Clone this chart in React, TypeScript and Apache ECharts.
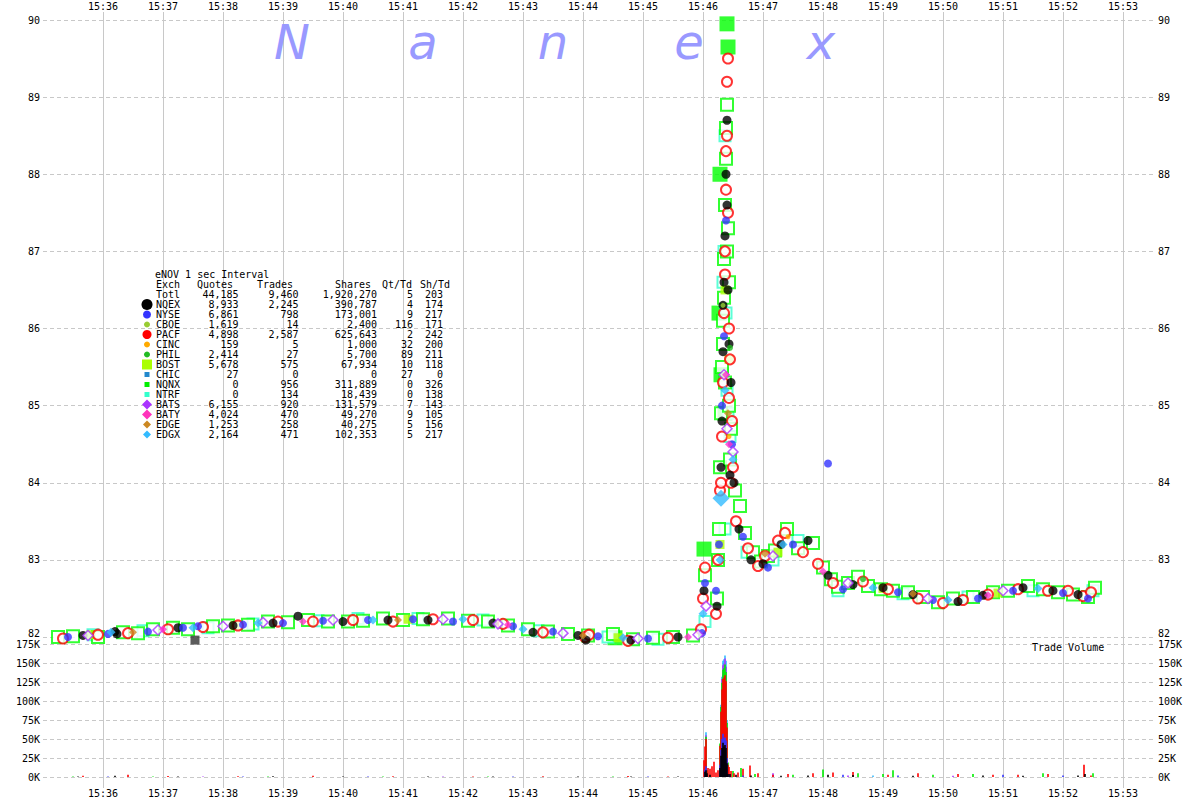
import React, { useEffect, useRef } from "react";
import * as echarts from "echarts";

// ---------------- data ----------------
const timeStart = "35:00"; // 15:35:00
const timeEnd = "53:30"; // 15:53:30
const priceTicks = [82, 83, 84, 85, 86, 87, 88, 89, 90];
const volumeTicks = [0, 25000, 50000, 75000, 100000, 125000, 150000, 175000];

const tableTitle = "eNOV 1 sec Interval";
const tableHeader = ["Exch", "Quotes", "Trades", "Shares", "Qt/Td", "Sh/Td"];
const exchanges = ["Totl", "NQEX", "NYSE", "CBOE", "PACF", "CINC", "PHIL", "BOST", "CHIC", "NQNX", "NTRF", "BATS", "BATY", "EDGE", "EDGX"];
const quotes = [44185, 8933, 6861, 1619, 4898, 159, 2414, 5678, 27, 0, 0, 6155, 4024, 1253, 2164];
const trades = [9460, 2245, 798, 14, 2587, 5, 27, 575, 0, 956, 134, 920, 470, 258, 471];
const shares = [1920270, 390787, 173001, 2400, 625643, 1000, 5700, 67934, 0, 311889, 18439, 131579, 49270, 40275, 102353];
const qtPerTd = [5, 4, 9, 116, 2, 32, 89, 10, 27, 0, 0, 7, 9, 5, 5];
const shPerTd = [203, 174, 217, 171, 242, 200, 211, 118, 0, 326, 138, 143, 105, 156, 217];

type P = [string, number];

const priceNQNX: P[] = [
  ["35:15", 82.0], ["35:30", 82.01], ["35:55", 82.0], ["36:20", 82.06], ["36:35", 82.05], ["36:50", 82.1],
  ["37:10", 82.12], ["37:25", 82.1], ["37:50", 82.14], ["38:05", 82.15], ["38:25", 82.16], ["38:45", 82.2],
  ["39:05", 82.19], ["39:25", 82.22], ["39:45", 82.2], ["40:05", 82.2], ["40:20", 82.21], ["40:40", 82.24],
  ["41:00", 82.22], ["41:20", 82.23], ["41:45", 82.24], ["42:05", 82.21], ["42:25", 82.2], ["42:45", 82.15],
  ["43:05", 82.1], ["43:25", 82.07], ["43:45", 82.04], ["44:05", 82.02], ["44:30", 82.04], ["44:50", 81.97],
  ["45:10", 81.99], ["45:30", 82.0], ["45:50", 82.02],
  ["46:02", 82.8], ["46:14", 82.5], ["46:15", 83.0], ["46:16", 83.4], ["46:17", 84.2], ["46:18", 84.9],
  ["46:19", 85.5], ["46:20", 86.1], ["46:21", 86.9], ["46:21", 86.4], ["46:22", 87.6], ["46:22", 85.3],
  ["46:23", 88.6], ["46:23", 88.2], ["46:24", 88.9], ["46:24", 87.0], ["46:25", 87.3], ["46:26", 86.6],
  ["46:20", 85.8], ["46:26", 85.0], ["46:27", 84.3], ["46:28", 84.7], ["46:32", 83.9], ["46:37", 83.7],
  ["46:42", 83.35], ["46:50", 83.1], ["46:58", 82.98], ["47:05", 83.05], ["47:12", 83.12], ["47:24", 83.4],
  ["47:35", 83.15], ["47:50", 83.22], ["48:00", 82.9], ["48:08", 82.75], ["48:15", 82.65], ["48:25", 82.7],
  ["48:35", 82.78], ["48:45", 82.66], ["48:58", 82.62], ["49:10", 82.6], ["49:25", 82.58], ["49:40", 82.52],
  ["49:55", 82.45], ["50:10", 82.5], ["50:30", 82.52], ["50:50", 82.58], ["51:05", 82.6], ["51:25", 82.66],
  ["51:40", 82.62], ["51:55", 82.58], ["52:10", 82.55], ["52:25", 82.52], ["52:32", 82.64],
];
const priceNQNXLarge: P[] = [
  ["46:01", 83.14], ["46:24", 89.95], ["46:25", 89.65], ["46:16", 86.2], ["46:18", 85.4], ["46:17", 88.0],
  ["44:32", 81.99], ["46:22", 84.9],
];
const pricePACF: P[] = [
  ["35:20", 81.98], ["35:55", 82.03], ["36:25", 82.05], ["37:05", 82.1], ["37:40", 82.13], ["38:15", 82.15],
  ["38:55", 82.2], ["39:30", 82.2], ["40:10", 82.22], ["40:50", 82.2], ["41:30", 82.23], ["42:10", 82.22],
  ["42:40", 82.17], ["43:20", 82.06], ["44:02", 82.0], ["44:06", 82.03], ["44:45", 81.95], ["45:25", 81.99],
  ["45:58", 82.1], ["46:00", 82.5], ["46:02", 82.9], ["46:13", 82.3], ["46:15", 83.0], ["46:17", 83.9],
  ["46:18", 84.0], ["46:19", 84.6], ["46:20", 85.3], ["46:21", 86.2], ["46:22", 87.0], ["46:22", 86.7],
  ["46:23", 87.8], ["46:23", 88.3], ["46:24", 89.2], ["46:24", 88.5], ["46:25", 89.5], ["46:25", 87.5],
  ["46:26", 86.0], ["46:26", 85.1], ["46:27", 85.6], ["46:28", 84.0], ["46:29", 84.8], ["46:30", 84.2],
  ["46:33", 83.5], ["46:45", 83.15], ["46:55", 82.92], ["47:02", 83.05], ["47:15", 83.25], ["47:22", 83.35],
  ["47:40", 83.1], ["47:55", 82.95], ["48:10", 82.7], ["48:40", 82.72], ["49:05", 82.62], ["49:35", 82.5],
  ["50:00", 82.44], ["50:20", 82.48], ["50:45", 82.55], ["51:15", 82.62], ["51:45", 82.6], ["52:05", 82.6],
  ["52:20", 82.53], ["52:28", 82.58],
];
const priceNQEX: P[] = [
  ["35:40", 82.02], ["36:12", 82.07], ["36:14", 82.04], ["37:15", 82.12], ["38:10", 82.15], ["38:50", 82.18],
  ["39:15", 82.27], ["40:00", 82.2], ["40:45", 82.22], ["41:25", 82.22], ["42:30", 82.18], ["43:10", 82.06],
  ["43:55", 82.02], ["44:03", 81.96], ["44:48", 81.96], ["45:35", 82.0], ["46:01", 82.6], ["46:14", 82.4],
  ["46:18", 84.2], ["46:19", 84.8], ["46:20", 85.7], ["46:20", 86.3], ["46:21", 86.6], ["46:22", 87.2],
  ["46:23", 88.0], ["46:24", 88.7], ["46:24", 87.6], ["46:25", 86.5], ["46:26", 85.8], ["46:27", 84.1],
  ["46:28", 85.3], ["46:31", 84.0], ["46:36", 83.4], ["46:48", 83.0], ["47:00", 82.95], ["47:18", 83.2],
  ["47:45", 83.25], ["48:05", 82.8], ["48:30", 82.68], ["49:00", 82.64], ["49:30", 82.55], ["50:15", 82.46],
  ["50:40", 82.54], ["51:20", 82.64], ["51:50", 82.6], ["52:15", 82.55],
];
const priceNYSE: P[] = [
  ["35:25", 82.0], ["36:05", 82.04], ["36:45", 82.07], ["37:20", 82.12], ["37:35", 82.14], ["38:20", 82.16],
  ["39:00", 82.18], ["39:40", 82.21], ["40:25", 82.22], ["41:10", 82.23], ["41:50", 82.2], ["42:50", 82.14],
  ["43:30", 82.07], ["44:15", 82.01], ["45:05", 81.98], ["45:59", 82.05], ["46:02", 82.7], ["46:13", 82.6],
  ["46:16", 83.2], ["46:19", 85.0], ["46:21", 85.9], ["46:23", 87.4], ["46:29", 84.5], ["46:40", 83.3],
  ["47:05", 82.9], ["47:30", 83.2], ["48:05", 84.25], ["48:20", 82.62], ["49:15", 82.58], ["49:50", 82.48],
  ["50:35", 82.5], ["51:10", 82.6], ["52:00", 82.57], ["52:25", 82.5],
];
const priceNTRF: P[] = [
  ["35:50", 82.03], ["36:40", 82.08], ["37:45", 82.12], ["38:30", 82.17], ["39:35", 82.21], ["40:15", 82.24],
  ["41:15", 82.24], ["42:20", 82.22], ["43:15", 82.08], ["44:25", 82.0], ["45:15", 81.97], ["46:02", 82.2],
  ["46:20", 86.6], ["46:21", 87.0], ["46:22", 88.5], ["46:23", 86.2], ["46:24", 85.2], ["46:25", 84.9],
  ["46:27", 84.6], ["46:22", 83.4], ["46:44", 83.1], ["47:10", 83.0], ["47:35", 83.25], ["48:15", 82.6],
  ["49:20", 82.56], ["50:25", 82.52], ["51:30", 82.6], ["52:30", 82.6],
];
const priceBATS: P[] = [
  ["35:45", 82.02], ["36:55", 82.09], ["38:00", 82.14], ["38:40", 82.19], ["39:50", 82.22], ["41:40", 82.23],
  ["42:35", 82.17], ["43:40", 82.05], ["44:55", 81.98], ["45:55", 82.03], ["46:03", 82.4], ["46:21", 85.4],
  ["46:24", 84.7], ["46:30", 84.4], ["47:10", 83.05], ["48:25", 82.7], ["49:45", 82.5], ["51:00", 82.6],
];
const priceEDGX: P[] = [
  ["36:08", 82.06], ["37:30", 82.12], ["38:35", 82.18], ["40:30", 82.22], ["42:00", 82.23], ["43:00", 82.1],
  ["44:40", 81.99], ["46:00", 82.3], ["46:17", 83.0], ["46:22", 85.2], ["46:30", 84.3], ["47:20", 83.2],
  ["48:50", 82.64], ["50:05", 82.48], ["51:35", 82.63],
];
const priceEDGXLarge: P[] = [["46:18", 83.8]];
const priceBOST: P[] = [
  ["35:48", 82.03], ["38:12", 82.15], ["41:05", 82.23], ["44:35", 81.99], ["46:17", 83.2], ["46:22", 86.5],
  ["46:26", 85.6], ["47:15", 83.1], ["49:00", 82.63], ["50:55", 82.57],
];
const priceBATY: P[] = [
  ["37:00", 82.1], ["39:20", 82.2], ["42:45", 82.16], ["45:45", 82.0], ["46:23", 85.4], ["46:26", 84.5],
  ["48:00", 82.85], ["50:45", 82.54],
];
const priceEDGE: P[] = [["36:30", 82.06], ["40:55", 82.22], ["44:00", 82.02], ["46:25", 84.9], ["47:02", 83.08], ["49:30", 82.56]];
const priceCINC: P[] = [["46:26", 84.6], ["47:25", 83.3]];
const pricePHIL: P[] = [["46:27", 85.75], ["48:40", 82.75]];
const priceCBOE: P[] = [["46:20", 86.3]];
const priceCHIC: P[] = [["37:32", 81.96]];

const volPACF: P[] = [
  ["35:40", 1500], ["36:25", 2800], ["37:05", 1200], ["38:15", 1000], ["39:30", 1500], ["40:50", 1000],
  ["42:10", 800], ["43:20", 900], ["44:45", 1200], ["45:25", 800], ["46:01", 22000], ["46:02", 30000],
  ["46:03", 36000], ["46:05", 12000], ["46:07", 8000], ["46:09", 14000], ["46:11", 20000], ["46:13", 6000],
  ["46:15", 9000], ["46:17", 25000], ["46:18", 50000], ["46:19", 65000], ["46:20", 72000], ["46:21", 80000],
  ["46:22", 82000], ["46:23", 78000], ["46:24", 40000], ["46:25", 12000], ["46:26", 10000], ["46:28", 8000],
  ["46:31", 5000], ["46:35", 6000], ["46:40", 9000], ["46:47", 15000], ["46:55", 5000], ["47:10", 3000],
  ["47:25", 4000], ["47:50", 5000], ["48:10", 6000], ["48:30", 4000], ["49:05", 3000], ["49:35", 5000],
  ["50:15", 4000], ["50:50", 3000], ["51:15", 3000], ["51:45", 4000], ["52:21", 16000], ["52:28", 2000],
];
const volNQEX: P[] = [
  ["35:35", 800], ["36:12", 1500], ["37:15", 700], ["38:50", 900], ["40:00", 600], ["41:25", 800],
  ["42:30", 700], ["43:55", 800], ["44:48", 600], ["45:35", 700], ["46:02", 7000], ["46:03", 9000],
  ["46:04", 5000], ["46:07", 3000], ["46:17", 12000], ["46:18", 28000], ["46:19", 38000], ["46:20", 45000],
  ["46:21", 40000], ["46:22", 42000], ["46:23", 38000], ["46:24", 18000], ["46:25", 4000], ["46:27", 4000],
  ["46:33", 3000], ["46:48", 2000], ["47:18", 1500], ["47:45", 2000], ["48:05", 3000], ["48:30", 2500],
  ["49:30", 1500], ["50:40", 2000], ["51:20", 1500], ["52:15", 2000], ["52:22", 4000],
];
const volNYSE: P[] = [
  ["36:05", 600], ["38:20", 700], ["40:25", 500], ["42:50", 600], ["45:05", 500], ["46:02", 3000],
  ["46:03", 5000], ["46:17", 4000], ["46:18", 8000], ["46:19", 12000], ["46:20", 12000], ["46:21", 11000],
  ["46:22", 10000], ["46:23", 10000], ["46:24", 7000], ["46:26", 3000], ["46:40", 2000], ["48:20", 3000],
  ["49:15", 2000], ["51:00", 3000], ["52:00", 2000],
];
const volNQNX: P[] = [
  ["35:30", 700], ["36:50", 600], ["38:45", 700], ["40:40", 800], ["42:25", 600], ["44:30", 800],
  ["46:03", 3000], ["46:04", 4000], ["46:17", 3000], ["46:18", 6000], ["46:19", 9000], ["46:20", 12000],
  ["46:21", 12000], ["46:22", 14000], ["46:23", 12000], ["46:24", 6000], ["46:25", 3000], ["46:30", 8000],
  ["46:38", 12000], ["46:52", 4000], ["47:30", 3000], ["48:00", 10000], ["48:35", 5000], ["49:00", 4000],
  ["49:10", 9000], ["49:50", 3000], ["50:30", 4000], ["51:40", 5000], ["52:30", 5000],
];
const volBATS: P[] = [
  ["37:40", 500], ["41:40", 600], ["46:03", 2000], ["46:19", 5000], ["46:20", 6000], ["46:21", 6000],
  ["46:22", 8000], ["46:23", 7000], ["47:10", 2000], ["48:25", 2000], ["50:10", 1500],
];
const volEDGX: P[] = [
  ["46:03", 4000], ["46:18", 3000], ["46:19", 3000], ["46:20", 6000], ["46:21", 6000], ["46:22", 4000],
  ["46:23", 8000], ["46:24", 4000], ["48:50", 2000],
];

// ---------------- helpers & styles ----------------
const toSec = (t: string) => {
  const [m, s] = t.split(":").map(Number);
  return m * 60 + s;
};
const pts = (arr: P[]) => arr.map(([t, v]) => [toSec(t), v]);
const timeLabel = (v: number) => (v % 60 === 0 ? `15:${String(Math.floor(v / 60)).padStart(2, "0")}` : "");

const MONO = '"DejaVu Sans Mono", monospace';
const GRID_LEFT = 43;
const GRID_RIGHT = 47;
const GRID_COLOR = "#c8c8c8";

const scatter = (name: string, arr: P[], symbol: string, size: number, itemStyle: any, z = 3) => ({
  name,
  type: "scatter",
  xAxisIndex: 0,
  yAxisIndex: 0,
  clip: false,
  symbol,
  symbolSize: size,
  itemStyle,
  z,
  data: pts(arr),
});

// volume layers, bottom to top of each stacked column
const volumeSets: { name: string; arr: P[]; color: string }[] = [
  { name: "NQEX", arr: volNQEX, color: "#000000" },
  { name: "NYSE", arr: volNYSE, color: "#3333ff" },
  { name: "PACF", arr: volPACF, color: "#ff0000" },
  { name: "NQNX", arr: volNQNX, color: "#00ee00" },
  { name: "BATS", arr: volBATS, color: "#aa33ff" },
  { name: "EDGX", arr: volEDGX, color: "#33bbff" },
];
// Each layer is drawn as a bar from 0 to the running total of the layers below it plus its own
// shares, with the upper layers painted first, so the columns read as stacked.
function volumeSeries() {
  const all = new Set<number>();
  volumeSets.forEach((s) => s.arr.forEach(([t]) => all.add(toSec(t))));
  const times = Array.from(all).sort((a, b) => a - b);
  const running = new Map<number, number>();
  times.forEach((t) => running.set(t, 0));
  const layers = volumeSets.map((s) => {
    const own = new Map<number, number>();
    s.arr.forEach(([t, v]) => own.set(toSec(t), v));
    const data: number[][] = [];
    times.forEach((t) => {
      const v = own.get(t);
      if (v === undefined) return;
      const top = running.get(t)! + v;
      running.set(t, top);
      data.push([t, top]);
    });
    return {
      name: s.name + " vol",
      type: "bar",
      xAxisIndex: 1,
      yAxisIndex: 2,
      barWidth: 1.6,
      barGap: "-100%",
      z: 2,
      itemStyle: { color: s.color },
      data,
    };
  });
  return layers.reverse();
}

const legendMarks: Record<string, any> = {
  NQEX: { shape: "circle", r: 5.5, color: "#000000" },
  NYSE: { shape: "circle", r: 4, color: "#3333ff" },
  CBOE: { shape: "circle", r: 3, color: "#99cc33" },
  PACF: { shape: "circle", r: 4.5, color: "#ff0000" },
  CINC: { shape: "circle", r: 3, color: "#ffaa00" },
  PHIL: { shape: "circle", r: 3, color: "#22bb22" },
  BOST: { shape: "rect", r: 5, color: "#aaff00" },
  CHIC: { shape: "rect", r: 2.5, color: "#2288cc" },
  NQNX: { shape: "rect", r: 2.5, color: "#00ee00" },
  NTRF: { shape: "rect", r: 2.5, color: "#33ffcc" },
  BATS: { shape: "diamond", r: 5, color: "#aa33ff" },
  BATY: { shape: "diamond", r: 5, color: "#ff33bb" },
  EDGE: { shape: "diamond", r: 4, color: "#cc8822" },
  EDGX: { shape: "diamond", r: 4, color: "#33bbff" },
};

function buildGraphics() {
  const els: any[] = [];
  const font = `10px ${MONO}`;
  const txt = (text: string, x: number, y: number, align = "left") => ({
    type: "text",
    x,
    y,
    z: 20,
    silent: true,
    style: { text, font, fill: "#000", align, verticalAlign: "middle" },
  });
  const letters = ["N", "a", "n", "e", "x"];
  const letterX = [292, 423, 553, 689, 821];
  letters.forEach((l, i) =>
    els.push({
      type: "text",
      x: letterX[i],
      y: 42,
      z: 1,
      silent: true,
      style: { text: l, font: `italic 48px "DejaVu Sans", sans-serif`, fill: "#9999ff", align: "center", verticalAlign: "middle" },
    })
  );
  const rowY0 = 294.5;
  els.push(txt(tableTitle, 155, 274.5));
  const headerX = [156, 197, 257, 335, 382, 420];
  tableHeader.forEach((h, i) => els.push(txt(h, headerX[i], 284.5)));
  const fmt = (n: number) => n.toLocaleString("en-US");
  exchanges.forEach((ex, i) => {
    const y = rowY0 + i * 10;
    els.push(txt(ex, 156, y));
    els.push(txt(fmt(quotes[i]), 238.5, y, "right"));
    els.push(txt(fmt(trades[i]), 298.5, y, "right"));
    els.push(txt(fmt(shares[i]), 377, y, "right"));
    els.push(txt(String(qtPerTd[i]), 413, y, "right"));
    els.push(txt(String(shPerTd[i]), 443, y, "right"));
    const m = legendMarks[ex];
    if (m) {
      const cx = 147;
      if (m.shape === "circle") els.push({ type: "circle", z: 20, shape: { cx, cy: y, r: m.r }, style: { fill: m.color } });
      else if (m.shape === "rect")
        els.push({ type: "rect", z: 20, shape: { x: cx - m.r, y: y - m.r, width: m.r * 2, height: m.r * 2 }, style: { fill: m.color } });
      else
        els.push({
          type: "polygon",
          z: 20,
          shape: { points: [[cx, y - m.r], [cx + m.r, y], [cx, y + m.r], [cx - m.r, y]] },
          style: { fill: m.color },
        });
    }
  });
  els.push(txt("Trade Volume", 1032, 647.5));
  return els;
}

function buildOption() {
  const xMin = toSec(timeStart);
  const xMax = toSec(timeEnd);
  const label = { fontFamily: MONO, fontSize: 10, color: "#000" };
  const dashed = { show: true, lineStyle: { color: GRID_COLOR, type: [4, 3] as any, width: 1 } };
  const baseX = {
    type: "value",
    min: xMin,
    max: xMax,
    interval: 60,
    axisLine: { show: false },
    axisTick: { show: false },
    splitLine: { show: false },
  };
  const priceY = {
    type: "value",
    gridIndex: 0,
    min: priceTicks[0],
    max: priceTicks[priceTicks.length - 1],
    interval: priceTicks[1] - priceTicks[0],
    axisLine: { show: false },
    axisTick: { show: false },
  };
  const volY = {
    type: "value",
    gridIndex: 1,
    min: volumeTicks[0],
    max: volumeTicks[volumeTicks.length - 1],
    interval: volumeTicks[1] - volumeTicks[0],
    axisLine: { show: false },
    axisTick: { show: false },
  };
  const volFmt = (v: number) => `${Math.round(v / 1000)}K`;
  const priceFmt = (v: number) => (v === priceTicks[0] ? `{lo|${v}}` : String(v));
  const priceRich = { lo: { ...label, padding: [0, 0, 7, 0] } };
  return {
    animation: false,
    backgroundColor: "#ffffff",
    grid: [
      { left: GRID_LEFT, right: GRID_RIGHT, top: 20, height: 617 },
      { left: GRID_LEFT, right: GRID_RIGHT, top: 644, height: 133 },
      { left: GRID_LEFT, right: GRID_RIGHT, top: 12, height: 776 },
    ],
    xAxis: [
      {
        ...baseX,
        gridIndex: 0,
        position: "top",
        axisLabel: { ...label, margin: 9, formatter: timeLabel, showMinLabel: false, showMaxLabel: false },
      },
      {
        ...baseX,
        gridIndex: 1,
        position: "bottom",
        axisLabel: { ...label, margin: 11, formatter: timeLabel, showMinLabel: false, showMaxLabel: false },
      },
      {
        ...baseX,
        gridIndex: 2,
        axisLabel: { show: false },
        splitLine: { show: true, showMinLine: false, showMaxLine: false, lineStyle: { color: GRID_COLOR, width: 1 } },
      },
    ],
    yAxis: [
      { ...priceY, position: "left", axisLabel: { ...label, margin: 3, formatter: priceFmt, rich: priceRich }, splitLine: dashed },
      { ...priceY, position: "right", axisLabel: { ...label, margin: 5, formatter: priceFmt, rich: priceRich }, splitLine: { show: false } },
      { ...volY, position: "left", axisLabel: { ...label, margin: 3, formatter: volFmt }, splitLine: dashed },
      { ...volY, position: "right", axisLabel: { ...label, margin: 5, formatter: volFmt }, splitLine: { show: false } },
      { type: "value", gridIndex: 2, show: false, splitLine: { show: false } },
    ],
    graphic: buildGraphics(),
    series: [
      ...volumeSeries(),
      scatter("NQNX big", priceNQNXLarge, "rect", 15, { color: "#00ff00" }, 3),
      scatter("NTRF", priceNTRF, "rect", 11, { color: "#ffffff", borderColor: "#33ffcc", borderWidth: 2 }, 3),
      scatter("NQNX", priceNQNX, "rect", 12, { color: "#ffffff", borderColor: "#00ff00", borderWidth: 2 }, 3),
      scatter("BOST", priceBOST, "rect", 9, { color: "#aaff00" }, 4),
      scatter("PACF", pricePACF, "circle", 10, { color: "#ffffff", borderColor: "#ff0000", borderWidth: 2 }, 4),
      scatter("NQEX", priceNQEX, "circle", 9, { color: "#000000" }, 4),
      scatter("NYSE", priceNYSE, "circle", 8, { color: "#3333ff" }, 4),
      scatter("BATS", priceBATS, "diamond", 10, { color: "#ffffff", borderColor: "#aa33ff", borderWidth: 1.5 }, 5),
      scatter("BATY", priceBATY, "diamond", 8, { color: "#ff33cc" }, 5),
      scatter("EDGE", priceEDGE, "diamond", 8, { color: "#cc8822" }, 5),
      scatter("EDGX", priceEDGX, "diamond", 9, { color: "#33bbff" }, 5),
      scatter("EDGX big", priceEDGXLarge, "diamond", 17, { color: "#33bbff" }, 5),
      scatter("CINC", priceCINC, "circle", 5, { color: "#ffaa00" }, 5),
      scatter("PHIL", pricePHIL, "circle", 6, { color: "#22bb22" }, 5),
      scatter("CBOE", priceCBOE, "circle", 5, { color: "#99cc33" }, 5),
      scatter("CHIC", priceCHIC, "rect", 9, { color: "#333333" }, 5),
    ],
  };
}

export default function App() {
  const ref = useRef<HTMLDivElement>(null);
  useEffect(() => {
    if (!ref.current) return;
    const chart = echarts.init(ref.current, null, { renderer: "svg" });
    chart.setOption(buildOption() as any);
    return () => chart.dispose();
  }, []);
  return <div ref={ref} style={{ position: "absolute", left: 0, top: 0, width: 1200, height: 800, background: "#fff" }} />;
}
